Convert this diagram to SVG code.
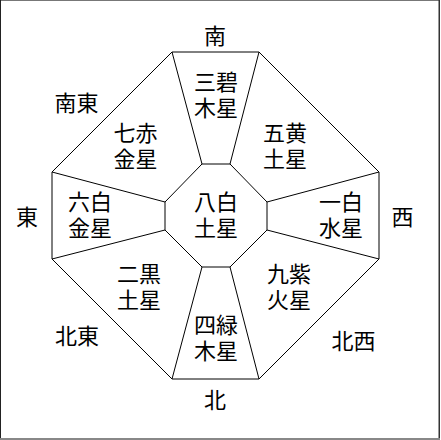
<svg xmlns="http://www.w3.org/2000/svg" width="441" height="440" viewBox="0 0 441 440">
<style>
.s{fill:#fff;stroke:#000;stroke-width:1;stroke-linejoin:miter}
text{font-family:"Noto Sans CJK JP","Noto Sans CJK SC",sans-serif;font-size:22px;fill:#000;text-anchor:middle}
</style>
<rect x="0" y="0" width="441" height="440" fill="#fff"/>
<g id="frame">
<line x1="0" y1="0.5" x2="440" y2="0.5" stroke="#777" stroke-width="1"/>
<line x1="0.5" y1="0" x2="0.5" y2="440" stroke="#222" stroke-width="1"/>
<line x1="439.25" y1="0" x2="439.25" y2="440" stroke="#333" stroke-width="1.5"/>
<line x1="0" y1="439" x2="440" y2="439" stroke="#888" stroke-width="2"/>
</g>
<g id="connectors">
<polygon class="s" points="172,52 259,52 379,172 379,259 259,379 172,379 52,259 52,172"/>
<line class="s" x1="202" y1="164" x2="172" y2="52"/>
<line class="s" x1="230" y1="164" x2="259" y2="52"/>
<line class="s" x1="267" y1="202" x2="379" y2="172"/>
<line class="s" x1="267" y1="230" x2="379" y2="259"/>
<line class="s" x1="230" y1="267" x2="259" y2="379"/>
<line class="s" x1="202" y1="267" x2="172" y2="379"/>
<line class="s" x1="165" y1="230" x2="52" y2="259"/>
<line class="s" x1="165" y1="202" x2="52" y2="172"/>
</g>
<g id="center">
<polygon class="s" points="202,164 230,164 267,202 267,230 230,267 202,267 165,230 165,202"/>
<text x="216" y="210">八白<tspan x="216" dy="26">土星</tspan></text>
</g>
<g id="s-south"><text x="216" y="89.5">三碧<tspan x="216" dy="26.5">木星</tspan></text></g>
<g id="s-southeast"><text x="135.5" y="141">七赤<tspan x="135.5" dy="26">金星</tspan></text></g>
<g id="s-southwest"><text x="285" y="141">五黄<tspan x="285" dy="26">土星</tspan></text></g>
<g id="s-east"><text x="90" y="210">六白<tspan x="90" dy="26">金星</tspan></text></g>
<g id="s-west"><text x="341" y="210">一白<tspan x="341" dy="26">水星</tspan></text></g>
<g id="s-northeast"><text x="139" y="281.5">二黒<tspan x="139" dy="26">土星</tspan></text></g>
<g id="s-northwest"><text x="289" y="281.5">九紫<tspan x="289" dy="26">火星</tspan></text></g>
<g id="s-north"><text x="216" y="333">四緑<tspan x="216" dy="26">木星</tspan></text></g>
<g id="labels">
<text x="215" y="43.5">南</text>
<text x="76.5" y="110.5">南東</text>
<text x="27" y="225">東</text>
<text x="402.5" y="225">西</text>
<text x="77" y="343.5">北東</text>
<text x="353.5" y="349">北西</text>
<text x="215" y="408">北</text>
</g>
</svg>
